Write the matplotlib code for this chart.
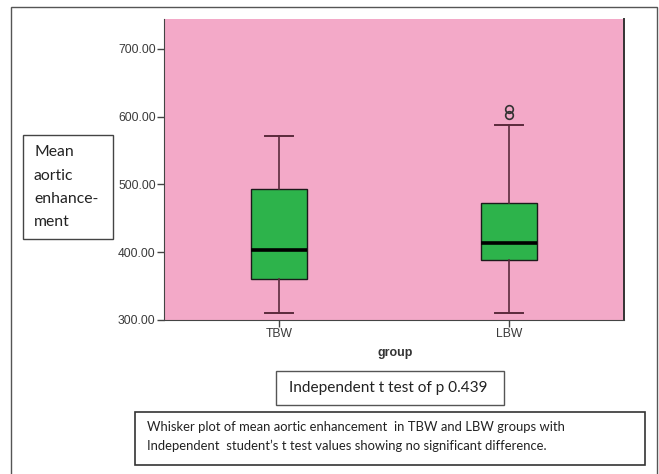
import matplotlib
matplotlib.use("Agg")
import matplotlib.pyplot as plt
from matplotlib.patches import Rectangle

# ---- data ---------------------------------------------------------------
groups = ["TBW", "LBW"]
q1 = [361.0, 389.0]
medians = [403.0, 413.0]
q3 = [493.0, 472.0]
whisker_lo = [310.0, 311.0]
whisker_hi = [571.0, 588.0]
outliers = [[], [603.0, 611.0]]
y_ticks = [300, 400, 500, 600, 700]
p_value = 0.439

W, H = 659, 474
PINK = "#f3a9c8"
GREEN = "#2db34b"
WHISK = "#5a2a3c"


def px_rect(x0, y0, x1, y1):
    """pixel box (top-left origin) -> figure fraction [l, b, w, h]"""
    return [x0 / W, 1 - y1 / H, (x1 - x0) / W, (y1 - y0) / H]


fig = plt.figure(figsize=(W / 100, H / 100), dpi=100)
fig.patch.set_facecolor("white")

# outer frame
fig.patches.append(Rectangle((11 / W, -0.02), (657 - 11) / W, 1.02 - 7 / H,
                             transform=fig.transFigure, fill=False,
                             edgecolor="#555555", lw=1.0))

ax = fig.add_axes(px_rect(164, 19, 624, 320))
ax.set_facecolor(PINK)

stats = []
for i, g in enumerate(groups):
    stats.append(dict(label=g, q1=q1[i], med=medians[i], q3=q3[i],
                      whislo=whisker_lo[i], whishi=whisker_hi[i],
                      fliers=outliers[i]))

ax.bxp(stats, positions=[1, 2], widths=0.245, patch_artist=True,
       showfliers=True,
       boxprops=dict(facecolor=GREEN, edgecolor="#1a1a1a", lw=1.0),
       medianprops=dict(color="black", lw=2.6),
       whiskerprops=dict(color=WHISK, lw=1.2),
       capprops=dict(color=WHISK, lw=1.4),
       capwidths=0.12,
       flierprops=dict(marker="o", markersize=5.5, markerfacecolor="none",
                       markeredgecolor="#333333", markeredgewidth=1.2))

ax.set_xlim(0.5, 2.5)
ax.set_ylim(300, 744)
ax.set_yticks(y_ticks)
ax.set_yticklabels([f"{v:.2f}" for v in y_ticks], fontsize=8.7,
                   family="Liberation Sans", color="#3a3a3a")
ax.set_xticks([1, 2])
ax.set_xticklabels(groups, fontsize=8.7, family="Liberation Sans",
                   color="#3a3a3a")
ax.tick_params(axis="both", length=5, width=1, color="#444444", pad=1)
ax.spines["top"].set_visible(False)
ax.spines["left"].set_color("#444444")
ax.spines["bottom"].set_color("#444444")
ax.spines["right"].set_color("#333333")
ax.spines["right"].set_linewidth(1.4)

fig.text(395 / W, 1 - 353 / H, "group", ha="center", va="center",
         fontsize=9, fontweight="bold", family="Liberation Sans",
         color="#333333")

# y-label box
fig.patches.append(Rectangle((23 / W, 1 - 239 / H), 90 / W, 104 / H,
                             transform=fig.transFigure, fill=False,
                             edgecolor="#444444", lw=1.0))
for j, line in enumerate(["Mean", "aortic", "enhance-", "ment"]):
    fig.text(34 / W, 1 - (152 + 23.5 * j) / H, line, ha="left", va="center",
             fontsize=11.3, family="Lato", color="#222222")

# t-test box
fig.patches.append(Rectangle((276 / W, 1 - 405 / H), 228 / W, 34 / H,
                             transform=fig.transFigure, fill=False,
                             edgecolor="#555555", lw=1.0))
fig.text(388 / W, 1 - 388 / H, f"Independent t test of p {p_value}",
         ha="center", va="center", fontsize=11.1, family="Lato",
         color="#222222")

# caption box
fig.patches.append(Rectangle((135 / W, 1 - 465 / H), 510 / W, 53 / H,
                             transform=fig.transFigure, fill=False,
                             edgecolor="#333333", lw=1.2))
caption = ["Whisker plot of mean aortic enhancement  in TBW and LBW groups with",
           "Independent  student\u2019s t test values showing no significant difference."]
for j, line in enumerate(caption):
    fig.text(147 / W, 1 - (427 + 19 * j) / H, line, ha="left", va="center",
             fontsize=9.4, family="Lato", color="#222222")

fig.savefig("out.png", dpi=100)
